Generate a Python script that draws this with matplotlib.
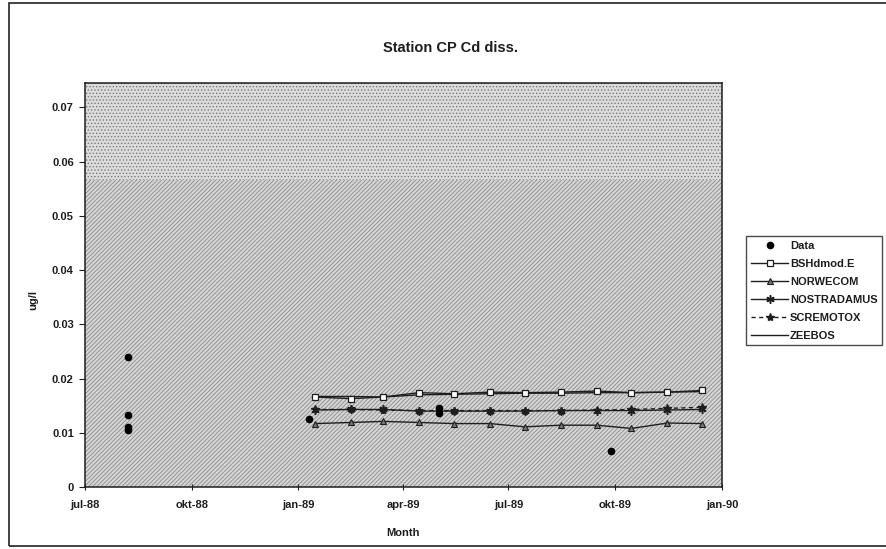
import pandas as pd
import matplotlib.pyplot as plt
from matplotlib.patches import Rectangle

plt.rcParams['font.family'] = ['Liberation Sans', 'DejaVu Sans']
plt.rcParams['hatch.linewidth'] = 0.6

# Observed dissolved Cd at station CP (ug/l)
obs_dates = ['1988-08-07', '1988-08-07', '1988-08-07', '1988-08-07',
             '1989-01-10', '1989-05-02', '1989-05-02', '1989-09-27']
obs_values = [0.0240, 0.0132, 0.0111, 0.0106,
              0.0126, 0.0145, 0.0137, 0.0066]

# Model output, one value per month (mid-month)
model_dates = ['1989-01-15', '1989-02-15', '1989-03-15', '1989-04-15',
               '1989-05-15', '1989-06-15', '1989-07-15', '1989-08-15',
               '1989-09-15', '1989-10-15', '1989-11-15', '1989-12-15']
bshdmod = [0.0166, 0.0163, 0.0166, 0.0174, 0.0172, 0.0175,
           0.0174, 0.0175, 0.0177, 0.0174, 0.0175, 0.0178]
norwecom = [0.0117, 0.0119, 0.0121, 0.0119, 0.0117, 0.0117,
            0.0111, 0.0114, 0.0114, 0.0108, 0.0118, 0.0117]
nostradamus = [0.0142, 0.0143, 0.0143, 0.0140, 0.0140, 0.0140,
               0.0140, 0.0141, 0.0141, 0.0141, 0.0142, 0.0143]
scremotox = [0.0143, 0.0143, 0.0142, 0.0141, 0.0141, 0.0141,
             0.0141, 0.0141, 0.0142, 0.0143, 0.0145, 0.0147]
zeebos = [0.0167, 0.0167, 0.0166, 0.0170, 0.0171, 0.0172,
          0.0173, 0.0173, 0.0174, 0.0174, 0.0175, 0.0176]

x_ticks = ['1988-07-01', '1988-10-01', '1989-01-01', '1989-04-01',
           '1989-07-01', '1989-10-01', '1990-01-01']
x_tick_labels = ['jul-88', 'okt-88', 'jan-89', 'apr-89', 'jul-89', 'okt-89', 'jan-90']
y_ticks = [0, 0.01, 0.02, 0.03, 0.04, 0.05, 0.06, 0.07]
y_tick_labels = ['0', '0.01', '0.02', '0.03', '0.04', '0.05', '0.06', '0.07']

obs_dates = pd.to_datetime(obs_dates)
model_dates = pd.to_datetime(model_dates)
x_ticks = pd.to_datetime(x_ticks)

fig = plt.figure(figsize=(8.86, 5.49), dpi=100)
ax = fig.add_axes([0.0959, 0.1129, 0.719, 0.7359])

# chart frame (runs off the right edge)
fig.patches.append(Rectangle((9 / 886, 3 / 549), 1.2, 1 - 6 / 549,
                             transform=fig.transFigure, fill=False,
                             edgecolor='#222222', linewidth=1.2))

# shaded plot area: dotted upper band, hatched lower band
ax.set_facecolor('#d8d8d8')
ax.axhspan(0.0566, 0.08, facecolor='#dcdcdc', edgecolor='#7a7a7a',
           hatch='.....', linewidth=0, zorder=0)
ax.axhspan(0, 0.0566, facecolor='#d6d6d6', edgecolor='#8a8a8a',
           hatch='////////', linewidth=0, zorder=0)

ink = '#1e1e1e'
ax.plot(model_dates, zeebos, '-', color=ink, linewidth=1.0, label='ZEEBOS', zorder=3)
ax.plot(model_dates, bshdmod, '-', color=ink, linewidth=1.0, marker='s',
        markersize=4.5, markerfacecolor='white', markeredgecolor=ink,
        markeredgewidth=0.9, label='BSHdmod.E', zorder=4)
ax.plot(model_dates, norwecom, '-', color=ink, linewidth=1.0, marker='^',
        markersize=4, markerfacecolor='#777777', markeredgecolor=ink,
        markeredgewidth=0.8, label='NORWECOM', zorder=4)
ax.plot(model_dates, nostradamus, '-', color=ink, linewidth=1.0, marker=(6, 2, 0),
        markersize=6, markeredgewidth=1.1, markeredgecolor=ink,
        label='NOSTRADAMUS', zorder=4)
ax.plot(model_dates, scremotox, '--', color=ink, linewidth=1.0, dashes=(3, 2.5),
        marker='*', markersize=6, markerfacecolor=ink, markeredgecolor=ink,
        label='SCREMOTOX', zorder=4)
ax.plot(obs_dates, obs_values, linestyle='none', marker='o', markersize=4.5,
        color='black', label='Data', zorder=5)

ax.set_xlim(pd.Timestamp('1988-07-01'), pd.Timestamp('1990-01-01'))
ax.set_ylim(0, 0.0745)
ax.set_xticks(x_ticks)
ax.set_xticklabels(x_tick_labels)
ax.set_yticks(y_ticks)
ax.set_yticklabels(y_tick_labels)
ax.tick_params(axis='x', direction='inout', length=5, width=0.8, pad=7,
               labelsize=8, colors=ink)
ax.tick_params(axis='y', direction='out', length=4, width=0.8, pad=4,
               labelsize=8, colors=ink)
for lbl in ax.get_xticklabels() + ax.get_yticklabels():
    lbl.set_fontweight('bold')
for side in ax.spines.values():
    side.set_color(ink)
    side.set_linewidth(1.1)

fig.text(0.508, 1 - 48 / 549, 'Station CP Cd diss.', ha='center', va='center',
         fontsize=10.5, fontweight='bold', color=ink)
fig.text(403 / 886, 1 - 533 / 549, 'Month', ha='center', va='center',
         fontsize=8, fontweight='bold', color=ink)
fig.text(33 / 886, 1 - 300 / 549, 'ug/l', ha='center', va='center', rotation=90,
         fontsize=8, fontweight='bold', color=ink)

handles, labels = ax.get_legend_handles_labels()
order = ['Data', 'BSHdmod.E', 'NORWECOM', 'NOSTRADAMUS', 'SCREMOTOX', 'ZEEBOS']
idx = [labels.index(name) for name in order]
leg = fig.legend([handles[i] for i in idx], order, loc='upper left',
                 bbox_to_anchor=(746 / 886, 1 - 236 / 549), frameon=True,
                 fancybox=False, fontsize=8, handlelength=3.4, handletextpad=0.15,
                 labelspacing=0.72, borderpad=0.42, borderaxespad=0)
leg.get_frame().set_edgecolor(ink)
leg.get_frame().set_linewidth(1.0)
for t in leg.get_texts():
    t.set_fontweight('bold')
    t.set_color(ink)

fig.savefig('out.png', dpi=100)
